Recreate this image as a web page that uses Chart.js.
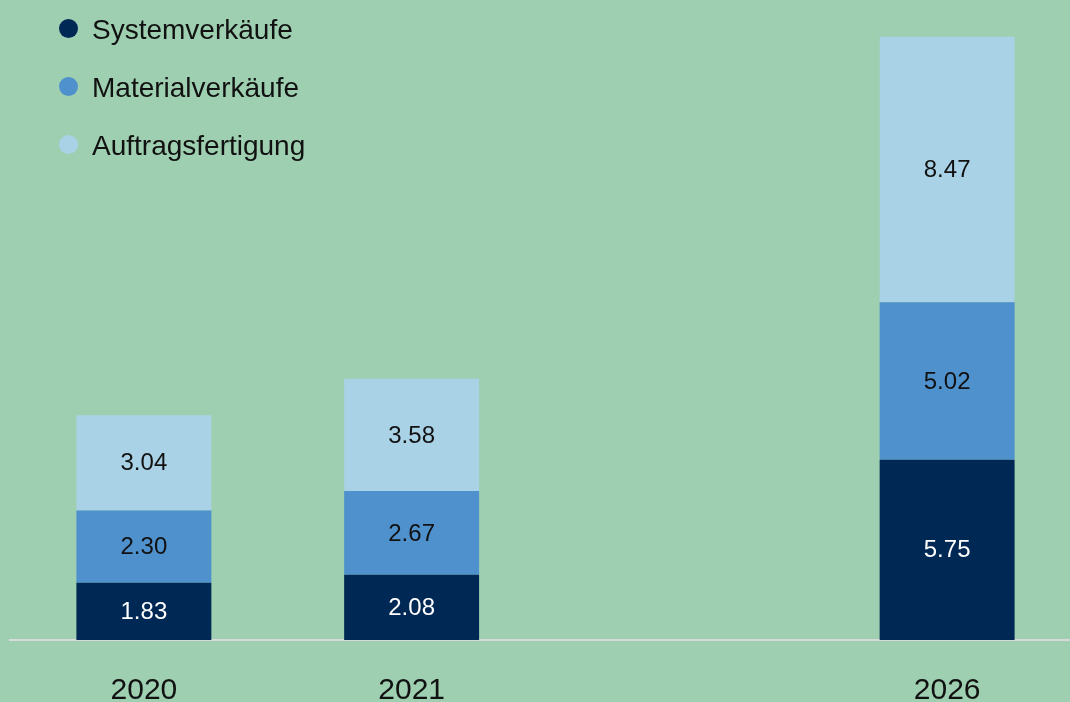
<!DOCTYPE html>
<html>
<head>
<meta charset="utf-8">
<script src="https://cdn.jsdelivr.net/npm/chart.js@4"></script>
<style>
  html, body { margin: 0; padding: 0; background: #9dcfb0; overflow: hidden; width: 1070px; height: 702px; }
  #wrap { position: absolute; left: 0; top: 0; width: 1081px; height: 702px; }
  #legend { position: absolute; left: 59px; top: 9px; font-family: "Liberation Sans", Arial, sans-serif; font-size: 28px; color: #111; }
  #legend div { height: 58px; display: flex; align-items: flex-start; padding-top: 5px; box-sizing: border-box; }
  #legend span.dot { display: inline-block; width: 19px; height: 19px; border-radius: 50%; margin-top: 5px; margin-right: 14px; }
</style>
</head>
<body>
<div id="wrap"><canvas id="chart"></canvas></div>
<div id="legend"></div>
<script>
const years = ['2020', '2021', '', '2026'];
const systemverkaeufe = [1.83, 2.08, null, 5.75];
const materialverkaeufe = [2.30, 2.67, null, 5.02];
const auftragsfertigung = [3.04, 3.58, null, 8.47];

const seriesNames = ['Systemverkäufe', 'Materialverkäufe', 'Auftragsfertigung'];
const seriesColors = ['#002855', '#4f91cd', '#a9d2e6'];
const labelColors = ['#ffffff', '#111111', '#111111'];

// zahlen mittig in die segmente schreiben
const barLabels = {
    id: 'barLabels',
    afterDatasetsDraw(chart) {
        const ctx = chart.ctx;
        ctx.save();
        ctx.font = '24px "Liberation Sans", Arial, sans-serif';
        ctx.textAlign = 'center';
        ctx.textBaseline = 'middle';
        chart.data.datasets.forEach((ds, i) => {
            chart.getDatasetMeta(i).data.forEach((bar, j) => {
                const v = ds.data[j];
                if (v == null) return;
                ctx.fillStyle = labelColors[i];
                ctx.fillText(v.toFixed(2), bar.x, (bar.y + bar.base) / 2 + 1);
            });
        });
        ctx.restore();
    }
};

const chart = new Chart(document.getElementById('chart'), {
    type: 'bar',
    data: {
        labels: years,
        datasets: [
            { label: seriesNames[0], data: systemverkaeufe, backgroundColor: seriesColors[0] },
            { label: seriesNames[1], data: materialverkaeufe, backgroundColor: seriesColors[1] },
            { label: seriesNames[2], data: auftragsfertigung, backgroundColor: seriesColors[2] }
        ]
    },
    options: {
        responsive: true,
        maintainAspectRatio: false,
        animation: false,
        layout: { padding: { left: 10, right: 0, top: 13, bottom: 0 } },
        datasets: { bar: { barPercentage: 1, categoryPercentage: 0.504, borderWidth: 0 } },
        plugins: { legend: { display: false }, tooltip: { enabled: false } },
        scales: {
            x: {
                stacked: true,
                grid: { display: false, drawTicks: false },
                border: { display: true, color: '#d9d9d9', width: 2 },
                ticks: { color: '#111', padding: 33, font: { family: '"Liberation Sans", Arial, sans-serif', size: 30 } },
                afterFit: (scale) => { scale.height = 62; }
            },
            y: {
                stacked: true,
                display: false,
                min: 0,
                max: 20
            }
        }
    },
    plugins: [barLabels]
});

// legende als html
const legend = document.getElementById('legend');
seriesNames.forEach((name, i) => {
    const row = document.createElement('div');
    row.innerHTML = '<span class="dot" style="background:' + seriesColors[i] + '"></span>' + name;
    legend.appendChild(row);
});
</script>
</body>
</html>
